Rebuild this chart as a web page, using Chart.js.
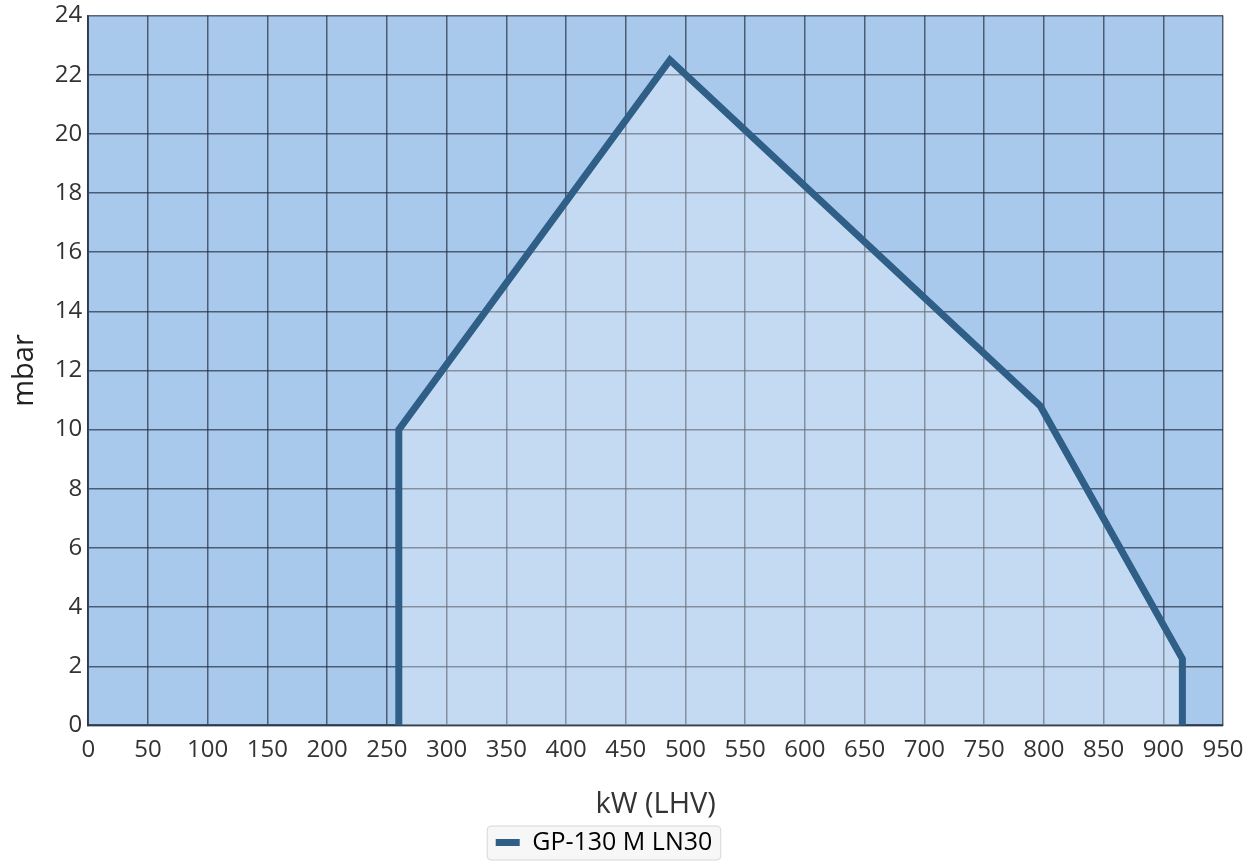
<!DOCTYPE html>
<html>
<head>
<meta charset="utf-8">
<script src="https://cdn.jsdelivr.net/npm/chart.js@4/dist/chart.umd.min.js"></script>
<style>
html,body{margin:0;padding:0;background:#fff;}
#wrap{width:1249px;height:865px;position:relative;}
</style>
</head>
<body>
<div id="wrap"><canvas id="c" width="1249" height="865"></canvas></div>
<script>
const seriesName = "GP-130 M LN30";
const powerKW = [260, 260, 487, 797, 916, 916];
const pressureMbar = [0, 10, 22.5, 10.8, 2.25, 0];
const xTitle = "kW (LHV)";
const yTitle = "mbar";

const points = powerKW.map((x, i) => ({x: x, y: pressureMbar[i]}));
const LEGEND_SHIFT = -11;

const bgPlugin = {
  id: 'bg',
  afterLayout(chart) {
    const lg = chart.legend;
    if (lg) { lg.left += LEGEND_SHIFT; lg.right += LEGEND_SHIFT; }
  },
  beforeDraw(chart) {
    const {ctx, chartArea: a} = chart;
    ctx.save();
    ctx.fillStyle = '#a9c9ec';
    ctx.fillRect(a.left, a.top, a.right - a.left, a.bottom - a.top);
    const lg = chart.legend;
    if (lg && lg.legendHitBoxes && lg.legendHitBoxes.length) {
      const hb = lg.legendHitBoxes[0];
      const cy = hb.top + hb.height / 2;
      const x = hb.left - 9, y = cy - 17, w = hb.width + 17, h = 34;
      ctx.beginPath();
      ctx.roundRect(x + 0.5, y + 0.5, w, h, 4);
      ctx.fillStyle = '#f7f7f7';
      ctx.fill();
      ctx.strokeStyle = '#d6d6d6';
      ctx.lineWidth = 1;
      ctx.stroke();
    }
    ctx.restore();
  }
};

new Chart(document.getElementById('c'), {
  type: 'line',
  data: {
    datasets: [{
      label: seriesName,
      data: points,
      borderColor: '#2f5e86',
      backgroundColor: 'rgba(255,255,255,0.32)',
      borderWidth: 7,
      fill: 'origin',
      pointRadius: 0,
      tension: 0,
      borderJoinStyle: 'miter'
    }]
  },
  options: {
    responsive: false,
    animation: false,
    layout: {padding: {left: 7, right: 26, top: 1, bottom: 0}},
    plugins: {
      legend: {
        position: 'bottom',
        labels: {
          color: '#333',
          font: {family: 'Open Sans', size: 25},
          boxWidth: 24,
          boxHeight: 7,
          padding: 5,
          generateLabels(chart) {
            return [{text: seriesName, fillStyle: '#2f5e86', strokeStyle: '#2f5e86', lineWidth: 0, datasetIndex: 0}];
          }
        }
      },
      tooltip: {enabled: false}
    },
    scales: {
      x: {
        type: 'linear', min: 0, max: 950,
        afterFit(s) { s.paddingRight = 0; },
        ticks: {stepSize: 50, color: '#333', font: {family: 'Open Sans', size: 24}, maxRotation: 0, padding: 10},
        grid: {color: 'rgba(35,45,65,0.7)', lineWidth: 1.5, drawTicks: false},
        border: {color: 'rgba(35,45,65,0.8)', width: 2},
        title: {display: true, text: xTitle, color: '#333', font: {family: 'Open Sans', size: 29}, padding: {top: 13, bottom: 3}}
      },
      y: {
        min: 0, max: 24,
        ticks: {stepSize: 2, color: '#333', font: {family: 'Open Sans', size: 24, lineHeight: 0.8}, padding: 6},
        grid: {color: 'rgba(35,45,65,0.7)', lineWidth: 1.5, drawTicks: false},
        border: {color: 'rgba(35,45,65,0.8)', width: 2},
        title: {display: true, text: yTitle, color: '#222', font: {family: 'Open Sans', size: 29}, padding: {top: 0, bottom: 7}}
      }
    }
  },
  plugins: [bgPlugin]
});
</script>
</body>
</html>
